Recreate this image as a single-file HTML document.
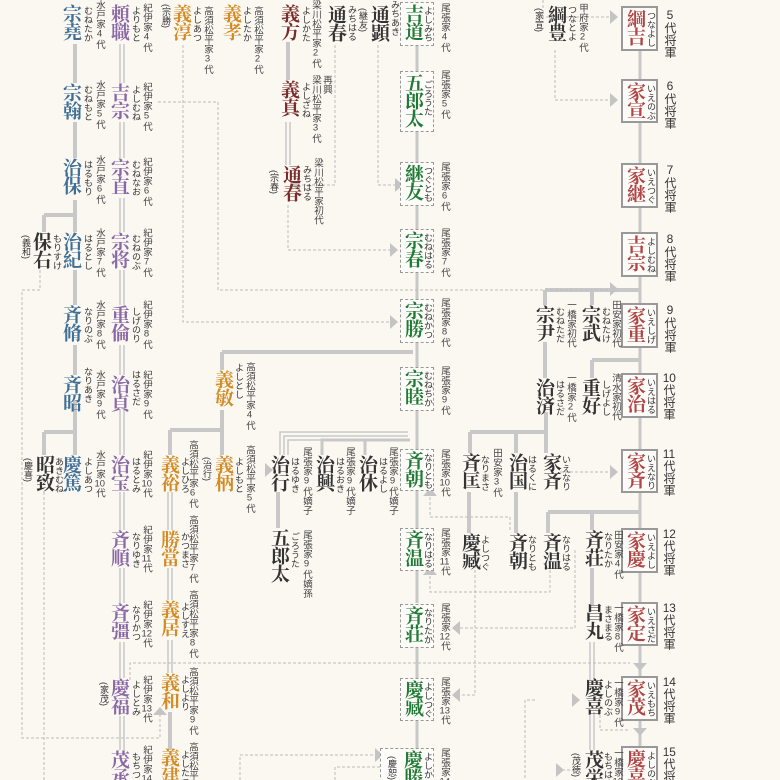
<!DOCTYPE html>
<html><head><meta charset="utf-8">
<style>
*{margin:0;padding:0;box-sizing:border-box}
html{width:780px;height:780px;overflow:hidden}
body{width:780px;height:780px;overflow:hidden;background:#fbf8f2;position:relative;font-family:"Liberation Sans","Noto Sans CJK JP",sans-serif}
svg{position:absolute;left:0;top:0}
.v{position:absolute;writing-mode:vertical-rl;white-space:nowrap;line-height:1}
.n{font-family:"Liberation Serif","Noto Serif CJK SC",serif;font-weight:700;font-size:19px;width:20px;text-align:center;letter-spacing:-1px}
.f{font-size:9px;color:#333;width:10px;letter-spacing:0}
.l{font-size:9.5px;color:#444;width:11px;letter-spacing:0;text-orientation:upright}
.t{text-combine-upright:all}
.b{color:#3f6f96}.p{color:#8a68a6}.o{color:#d28b25}.r{color:#7a2b2b}.g{color:#333}.gr{color:#1f7a35}.s{color:#b04545}
.ob{position:absolute;border:1px dashed #999;background:#fdfcf8;width:34px}
.sb{position:absolute;border:2px solid #999;background:#fdfcf8;width:37px}
.sl{font-size:12px;color:#333;width:13px;text-orientation:upright}
</style></head><body>
<svg width="780" height="780">
<g stroke="#c8c8c8" stroke-width="4" fill="none">
<path d="M75 44V83M75 122V158M75 200V232M75 270V305M75 345V375M75 400V455"/>
<path d="M44 215H75M44 215V232"/>
<path d="M44 432H75M44 432V455"/>
<path d="M222 352H413M222 352V370M222 410V455M170 430H222M170 430V455"/>
<path d="M170 712V750"/>
<path d="M288 42V80"/>
<path d="M278 492V528"/>
<path d="M545 290H640M545 290V305M592 290V305M545 342V378"/>
<path d="M592 360H640M592 360V378"/>
<path d="M470 432H546M470 432V453M516 432V453M546 412V453"/>
<path d="M469 492V533M516 492V533"/>
<path d="M548 512H640M548 512V533M592 512V530"/>
<path d="M592 568V605"/>
</g>
<g stroke="#c8c8c8" stroke-width="3" fill="none">
<path d="M640 50V80M640 122V163M640 207V233M640 276V303M640 346V373M640 417V450M640 492V528M640 572V603M640 645V676M640 720V746"/>
<path d="M417 45V72M417 130V163M417 205V230M417 272V300M417 342V368M417 410V450M417 490V528M417 570V603M417 648V678M417 720V748"/>
<path d="M322 455V440H410M365 455V440"/>
</g>
<g stroke="#c8c8c8" stroke-width="1.5" fill="none">
<path d="M120 44V83M124 44V83M120 122V158M124 122V158M120 198V232M124 198V232M120 270V305M124 270V305M120 345V375M124 345V375M120 410V455M124 410V455M120 492V530M124 492V530M120 568V603M124 568V603M120 642V678M124 642V678M120 716V750M124 716V750"/>
<path d="M168 492V530M172 492V530M168 568V600M172 568V600M168 640V673M172 640V673"/>
<path d="M286 122V165M290 122V165"/>
<path d="M280 455V432H408M284 455V436H408M288 455V440H408"/>
<path d="M590 642V680M594 642V680M590 712V750M594 712V750"/>
</g>
<g stroke="#bbb" stroke-width="1" stroke-dasharray="3,2" fill="none">
<path d="M543 0V17H610"/>
<path d="M555 50V100H610"/>
<path d="M183 45V322H390"/>
<path d="M158 102H218V290H610"/>
<path d="M335 45V185H300"/>
<path d="M378 45V185H395"/>
<path d="M288 205V250H390"/>
<path d="M40 270V290H22V738H160V715"/>
<path d="M44 492V780"/>
<path d="M130 680V663H630"/>
<path d="M560 472H610"/>
<path d="M510 530V517H430V496"/>
<path d="M550 570V592H430V575"/>
<path d="M575 550V628H460"/>
<path d="M475 565V695H460"/>
<path d="M600 700V730H630"/>
<path d="M535 700H525V780"/>
<path d="M575 770H560"/>
<path d="M240 780V755H375"/>
<path d="M335 780V767H380"/>
</g>
<g fill="#c4c4c4">
<path d="M610 10l8 7-8 7z"/><path d="M610 93l8 7-8 7z"/><path d="M610 282l8 7-8 7z"/>
<path d="M395 178l8 7-8 7z"/><path d="M390 243l8 7-8 7z"/><path d="M300 178l-8 7 8 7z"/>
<path d="M390 315l8 7-8 7z"/><path d="M610 465l8 7-8 7z"/><path d="M265 463l8 7-8 7z"/>
<path d="M423 496l7-8 7 8z"/><path d="M423 575l7-8 7 8z"/><path d="M460 621l-8 7 8 7z"/>
<path d="M460 688l-8 7 8 7z"/><path d="M633 663l7 8 7-8z"/><path d="M633 728l7 8 7-8z"/>
<path d="M572 693l8 7-8 7z"/><path d="M153 715l7-8 7 8z"/><path d="M375 748l8 7-8 7z"/>
<path d="M556 763l8 7-8 7z"/>
</g>
</svg>

<!-- Mito -->
<div class="v n b" style="left:60px;top:4px">宗堯</div><div class="v f" style="left:82px;top:6px">むねたか</div><div class="v l" style="left:93px;top:0">水戸家4代</div>
<div class="v n b" style="left:60px;top:83px">宗翰</div><div class="v f" style="left:82px;top:85px">むねもと</div><div class="v l" style="left:93px;top:80px">水戸家5代</div>
<div class="v n b" style="left:60px;top:158px">治保</div><div class="v f" style="left:82px;top:160px">はるもり</div><div class="v l" style="left:93px;top:155px">水戸家6代</div>
<div class="v n b" style="left:60px;top:232px">治紀</div><div class="v f" style="left:82px;top:234px">はるとし</div><div class="v l" style="left:93px;top:228px">水戸家7代</div>
<div class="v n b" style="left:60px;top:305px">斉脩</div><div class="v f" style="left:82px;top:307px">なりのぶ</div><div class="v l" style="left:93px;top:300px">水戸家8代</div>
<div class="v n b" style="left:60px;top:375px">斉昭</div><div class="v f" style="left:82px;top:367px">なりあき</div><div class="v l" style="left:93px;top:370px">水戸家9代</div>
<div class="v n b" style="left:60px;top:455px">慶篤</div><div class="v f" style="left:82px;top:457px">よしあつ</div><div class="v l" style="left:93px;top:450px">水戸家<span class="t">10</span>代</div>
<div class="v n g" style="left:33px;top:455px">昭致</div><div class="v f" style="left:53px;top:457px">あきむね</div><div class="v f" style="left:22px;top:458px">(慶喜)</div>
<div class="v n g" style="left:30px;top:232px">保右</div><div class="v f" style="left:51px;top:234px">もりすけ</div><div class="v f" style="left:20px;top:235px">(義和)</div>
<!-- Kii -->
<div class="v n p" style="left:108px;top:4px">頼職</div><div class="v f" style="left:130px;top:6px">よりもと</div><div class="v l" style="left:140px;top:3px">紀伊家4代</div>
<div class="v n p" style="left:108px;top:83px">吉宗</div><div class="v f" style="left:130px;top:85px">よしむね</div><div class="v l" style="left:140px;top:82px">紀伊家5代</div>
<div class="v n p" style="left:108px;top:158px">宗直</div><div class="v f" style="left:130px;top:160px">むねなお</div><div class="v l" style="left:140px;top:157px">紀伊家6代</div>
<div class="v n p" style="left:108px;top:232px">宗将</div><div class="v f" style="left:130px;top:234px">むねのぶ</div><div class="v l" style="left:140px;top:228px">紀伊家7代</div>
<div class="v n p" style="left:108px;top:305px">重倫</div><div class="v f" style="left:130px;top:307px">しげのり</div><div class="v l" style="left:140px;top:300px">紀伊家8代</div>
<div class="v n p" style="left:108px;top:375px">治貞</div><div class="v f" style="left:130px;top:370px">はるさだ</div><div class="v l" style="left:140px;top:370px">紀伊家9代</div>
<div class="v n p" style="left:108px;top:455px">治宝</div><div class="v f" style="left:130px;top:457px">はるとみ</div><div class="v l" style="left:140px;top:450px">紀伊家<span class="t">10</span>代</div>
<div class="v n p" style="left:108px;top:530px">斉順</div><div class="v f" style="left:130px;top:532px">なりゆき</div><div class="v l" style="left:140px;top:525px">紀伊家<span class="t">11</span>代</div>
<div class="v n p" style="left:108px;top:603px">斉彊</div><div class="v f" style="left:130px;top:605px">なりかつ</div><div class="v l" style="left:140px;top:600px">紀伊家<span class="t">12</span>代</div>
<div class="v n p" style="left:108px;top:678px">慶福</div><div class="v f" style="left:130px;top:680px">よしとみ</div><div class="v l" style="left:140px;top:675px">紀伊家<span class="t">13</span>代</div><div class="v f" style="left:98px;top:682px">(家茂)</div>
<div class="v n p" style="left:108px;top:750px">茂承</div><div class="v f" style="left:130px;top:752px">もちつぐ</div><div class="v l" style="left:140px;top:745px">紀伊家<span class="t">14</span>代</div>
<!-- Takasu -->
<div class="v n o" style="left:170px;top:4px">義淳</div><div class="v f" style="left:191px;top:6px">よしあつ</div><div class="v l" style="left:201px;top:6px">高須松平家3代</div><div class="v f" style="left:160px;top:4px">(宗勝)</div>
<div class="v n o" style="left:220px;top:4px">義孝</div><div class="v f" style="left:241px;top:6px">よしたか</div><div class="v l" style="left:251px;top:6px">高須松平家2代</div>
<div class="v n o" style="left:212px;top:370px">義敏</div><div class="v f" style="left:233px;top:363px">よしとし</div><div class="v l" style="left:243px;top:362px">高須松平家4代</div>
<div class="v n o" style="left:158px;top:455px">義裕</div><div class="v f" style="left:179px;top:457px">よしひろ</div><div class="v l" style="left:186px;top:440px">高須松平家6代</div>
<div class="v n o" style="left:212px;top:455px">義柄</div><div class="v f" style="left:233px;top:457px">よしもと</div><div class="v l" style="left:243px;top:445px">高須松平家5代</div><div class="v f" style="left:201px;top:457px">(治行)</div>
<div class="v n o" style="left:158px;top:530px">勝當</div><div class="v f" style="left:179px;top:532px">かつまさ</div><div class="v l" style="left:186px;top:515px">高須松平家7代</div>
<div class="v n o" style="left:158px;top:600px">義居</div><div class="v f" style="left:179px;top:602px">よしすえ</div><div class="v l" style="left:186px;top:590px">高須松平家8代</div>
<div class="v n o" style="left:158px;top:673px">義和</div><div class="v f" style="left:179px;top:675px">よしより</div><div class="v l" style="left:186px;top:667px">高須松平家9代</div>
<div class="v n o" style="left:158px;top:748px">義建</div><div class="v f" style="left:179px;top:750px">よしたつ</div><div class="v l" style="left:186px;top:742px">高須松平家<span class="t">10</span>代</div>
<!-- Yanagawa -->
<div class="v n r" style="left:278px;top:4px">義方</div><div class="v f" style="left:300px;top:6px">よしかた</div><div class="v l" style="left:309px;top:0">梁川松平家2代</div>
<div class="v n r" style="left:278px;top:80px">義真</div><div class="v f" style="left:300px;top:82px">よしざね</div><div class="v l" style="left:309px;top:75px">梁川松平家3代</div><div class="v l" style="left:320px;top:75px">再興</div>
<div class="v n r" style="left:280px;top:165px">通春</div><div class="v f" style="left:301px;top:165px">みちはる</div><div class="v l" style="left:311px;top:158px">梁川松平家初代</div><div class="v f" style="left:268px;top:170px">(宗春)</div>
<div class="v n g" style="left:325px;top:5px">通春</div><div class="v f" style="left:346px;top:5px">みちはる</div>
<div class="v n g" style="left:368px;top:5px">通顕</div><div class="v f" style="left:389px;top:0">みちあき</div><div class="v f" style="left:357px;top:8px">(継友)</div>
<!-- Owari -->
<div class="ob" style="left:400px;top:2px;height:44px"></div><div class="v n gr" style="left:402px;top:4px">吉道</div><div class="v f" style="left:422px;top:6px">よしみち</div><div class="v l" style="left:438px;top:3px">尾張家4代</div>
<div class="ob" style="left:400px;top:71px;height:61px"></div><div class="v n gr" style="left:402px;top:73px">五郎太</div><div class="v f" style="left:422px;top:80px">ごろうた</div><div class="v l" style="left:438px;top:70px">尾張家5代</div>
<div class="ob" style="left:400px;top:162px;height:44px"></div><div class="v n gr" style="left:402px;top:164px">継友</div><div class="v f" style="left:422px;top:166px">つぐとも</div><div class="v l" style="left:438px;top:162px">尾張家6代</div>
<div class="ob" style="left:400px;top:229px;height:44px"></div><div class="v n gr" style="left:402px;top:231px">宗春</div><div class="v f" style="left:422px;top:233px">むねはる</div><div class="v l" style="left:438px;top:228px">尾張家7代</div>
<div class="ob" style="left:400px;top:299px;height:44px"></div><div class="v n gr" style="left:402px;top:301px">宗勝</div><div class="v f" style="left:422px;top:303px">むねかつ</div><div class="v l" style="left:438px;top:298px">尾張家8代</div>
<div class="ob" style="left:400px;top:367px;height:44px"></div><div class="v n gr" style="left:402px;top:369px">宗睦</div><div class="v f" style="left:422px;top:371px">むねちか</div><div class="v l" style="left:438px;top:366px">尾張家9代</div>
<div class="ob" style="left:400px;top:449px;height:42px"></div><div class="v n gr" style="left:402px;top:451px">斉朝</div><div class="v f" style="left:422px;top:453px">なりとも</div><div class="v l" style="left:438px;top:449px">尾張家<span class="t">10</span>代</div>
<div class="ob" style="left:400px;top:528px;height:43px"></div><div class="v n gr" style="left:402px;top:530px">斉温</div><div class="v f" style="left:422px;top:532px">なりはる</div><div class="v l" style="left:438px;top:528px">尾張家<span class="t">11</span>代</div>
<div class="ob" style="left:400px;top:604px;height:44px"></div><div class="v n gr" style="left:402px;top:606px">斉荘</div><div class="v f" style="left:422px;top:608px">なりたか</div><div class="v l" style="left:438px;top:603px">尾張家<span class="t">12</span>代</div>
<div class="ob" style="left:400px;top:678px;height:43px"></div><div class="v n gr" style="left:402px;top:680px">慶臧</div><div class="v f" style="left:422px;top:682px">よしつぐ</div><div class="v l" style="left:438px;top:677px">尾張家<span class="t">13</span>代</div>
<div class="ob" style="left:380px;top:748px;height:40px;width:54px"></div><div class="v n gr" style="left:401px;top:750px">慶勝</div><div class="v f" style="left:422px;top:752px">よしかつ</div><div class="v l" style="left:438px;top:748px">尾張家<span class="t">14</span>代</div><div class="v f" style="left:386px;top:756px">(慶恕)</div>
<!-- Shogun -->
<div class="sb" style="left:621px;top:6px;height:45px"></div><div class="v n s" style="left:624px;top:9px">綱吉</div><div class="v f" style="left:645px;top:11px">つなよし</div><div class="v sl" style="left:663px;top:8px">5代将軍</div>
<div class="sb" style="left:621px;top:79px;height:44px"></div><div class="v n s" style="left:624px;top:82px">家宣</div><div class="v f" style="left:645px;top:84px">いえのぶ</div><div class="v sl" style="left:663px;top:79px">6代将軍</div>
<div class="sb" style="left:621px;top:163px;height:45px"></div><div class="v n s" style="left:624px;top:166px">家継</div><div class="v f" style="left:645px;top:168px">いえつぐ</div><div class="v sl" style="left:663px;top:163px">7代将軍</div>
<div class="sb" style="left:621px;top:232px;height:45px"></div><div class="v n s" style="left:624px;top:235px">吉宗</div><div class="v f" style="left:645px;top:237px">よしむね</div><div class="v sl" style="left:663px;top:232px">8代将軍</div>
<div class="sb" style="left:621px;top:303px;height:45px"></div><div class="v n s" style="left:624px;top:306px">家重</div><div class="v f" style="left:645px;top:308px">いえしげ</div><div class="v sl" style="left:663px;top:303px">9代将軍</div>
<div class="sb" style="left:621px;top:373px;height:45px"></div><div class="v n s" style="left:624px;top:376px">家治</div><div class="v f" style="left:645px;top:378px">いえはる</div><div class="v sl" style="left:662px;top:372px"><span class="t">10</span>代将軍</div>
<div class="sb" style="left:621px;top:449px;height:44px"></div><div class="v n s" style="left:624px;top:452px">家斉</div><div class="v f" style="left:645px;top:454px">いえなり</div><div class="v sl" style="left:662px;top:448px"><span class="t">11</span>代将軍</div>
<div class="sb" style="left:621px;top:528px;height:45px"></div><div class="v n s" style="left:624px;top:531px">家慶</div><div class="v f" style="left:645px;top:533px">いえよし</div><div class="v sl" style="left:662px;top:528px"><span class="t">12</span>代将軍</div>
<div class="sb" style="left:621px;top:602px;height:44px"></div><div class="v n s" style="left:624px;top:605px">家定</div><div class="v f" style="left:645px;top:607px">いえさだ</div><div class="v sl" style="left:662px;top:602px"><span class="t">13</span>代将軍</div>
<div class="sb" style="left:621px;top:676px;height:45px"></div><div class="v n s" style="left:624px;top:679px">家茂</div><div class="v f" style="left:645px;top:681px">いえもち</div><div class="v sl" style="left:662px;top:676px"><span class="t">14</span>代将軍</div>
<div class="sb" style="left:621px;top:746px;height:45px"></div><div class="v n s" style="left:624px;top:749px">慶喜</div><div class="v f" style="left:645px;top:751px">よしのぶ</div><div class="v sl" style="left:662px;top:746px"><span class="t">15</span>代将軍</div>
<!-- others -->
<div class="v n g" style="left:545px;top:5px">綱豊</div><div class="v f" style="left:566px;top:5px">つなとよ</div><div class="v l" style="left:576px;top:3px">甲府家2代</div><div class="v f" style="left:533px;top:8px">(家宣)</div>
<div class="v n g" style="left:533px;top:305px">宗尹</div><div class="v f" style="left:554px;top:307px">むねただ</div><div class="v l" style="left:564px;top:300px">一橋家初代</div>
<div class="v n g" style="left:579px;top:305px">宗武</div><div class="v f" style="left:600px;top:307px">むねたけ</div><div class="v l" style="left:609px;top:300px">田安家初代</div>
<div class="v n g" style="left:533px;top:378px">治済</div><div class="v f" style="left:554px;top:380px">はるさだ</div><div class="v l" style="left:564px;top:373px">一橋家2代</div>
<div class="v n g" style="left:579px;top:378px">重好</div><div class="v f" style="left:600px;top:380px">しげよし</div><div class="v l" style="left:609px;top:373px">清水家初代</div>
<div class="v n g" style="left:459px;top:453px">斉匡</div><div class="v f" style="left:479px;top:455px">なりまさ</div><div class="v l" style="left:490px;top:448px">田安家3代</div>
<div class="v n g" style="left:506px;top:453px">治国</div><div class="v f" style="left:526px;top:455px">はるくに</div>
<div class="v n g" style="left:540px;top:453px">家斉</div><div class="v f" style="left:560px;top:455px">いえなり</div>
<div class="v n g" style="left:459px;top:533px">慶臧</div><div class="v f" style="left:479px;top:535px">よしつぐ</div>
<div class="v n g" style="left:506px;top:533px">斉朝</div><div class="v f" style="left:526px;top:535px">なりとも</div>
<div class="v n g" style="left:540px;top:533px">斉温</div><div class="v f" style="left:560px;top:535px">なりはる</div>
<div class="v n g" style="left:582px;top:530px">斉荘</div><div class="v f" style="left:602px;top:532px">なりたか</div><div class="v l" style="left:611px;top:530px">田安家4代</div>
<div class="v n g" style="left:582px;top:603px">昌丸</div><div class="v f" style="left:602px;top:605px">まさまる</div><div class="v l" style="left:611px;top:603px">一橋家8代</div>
<div class="v n g" style="left:582px;top:678px">慶喜</div><div class="v f" style="left:602px;top:680px">よしのぶ</div><div class="v l" style="left:611px;top:678px">一橋家9代</div>
<div class="v n g" style="left:582px;top:750px">茂栄</div><div class="v f" style="left:602px;top:752px">もちはる</div><div class="v l" style="left:611px;top:748px">一橋家<span class="t">10</span>代</div><div class="v f" style="left:570px;top:753px">(茂徳)</div>
<div class="v n g" style="left:268px;top:455px">治行</div><div class="v f" style="left:289px;top:457px">はるゆき</div><div class="v l" style="left:300px;top:447px">尾張家9代嫡子</div>
<div class="v n g" style="left:268px;top:528px">五郎太</div><div class="v f" style="left:289px;top:532px">ごろうた</div><div class="v l" style="left:300px;top:530px">尾張家9代嫡孫</div>
<div class="v n g" style="left:313px;top:455px">治興</div><div class="v f" style="left:334px;top:457px">はるおき</div><div class="v l" style="left:343px;top:447px">尾張家9代嫡子</div>
<div class="v n g" style="left:356px;top:455px">治休</div><div class="v f" style="left:377px;top:457px">はるよし</div><div class="v l" style="left:386px;top:447px">尾張家9代嫡子</div>
</body></html>
